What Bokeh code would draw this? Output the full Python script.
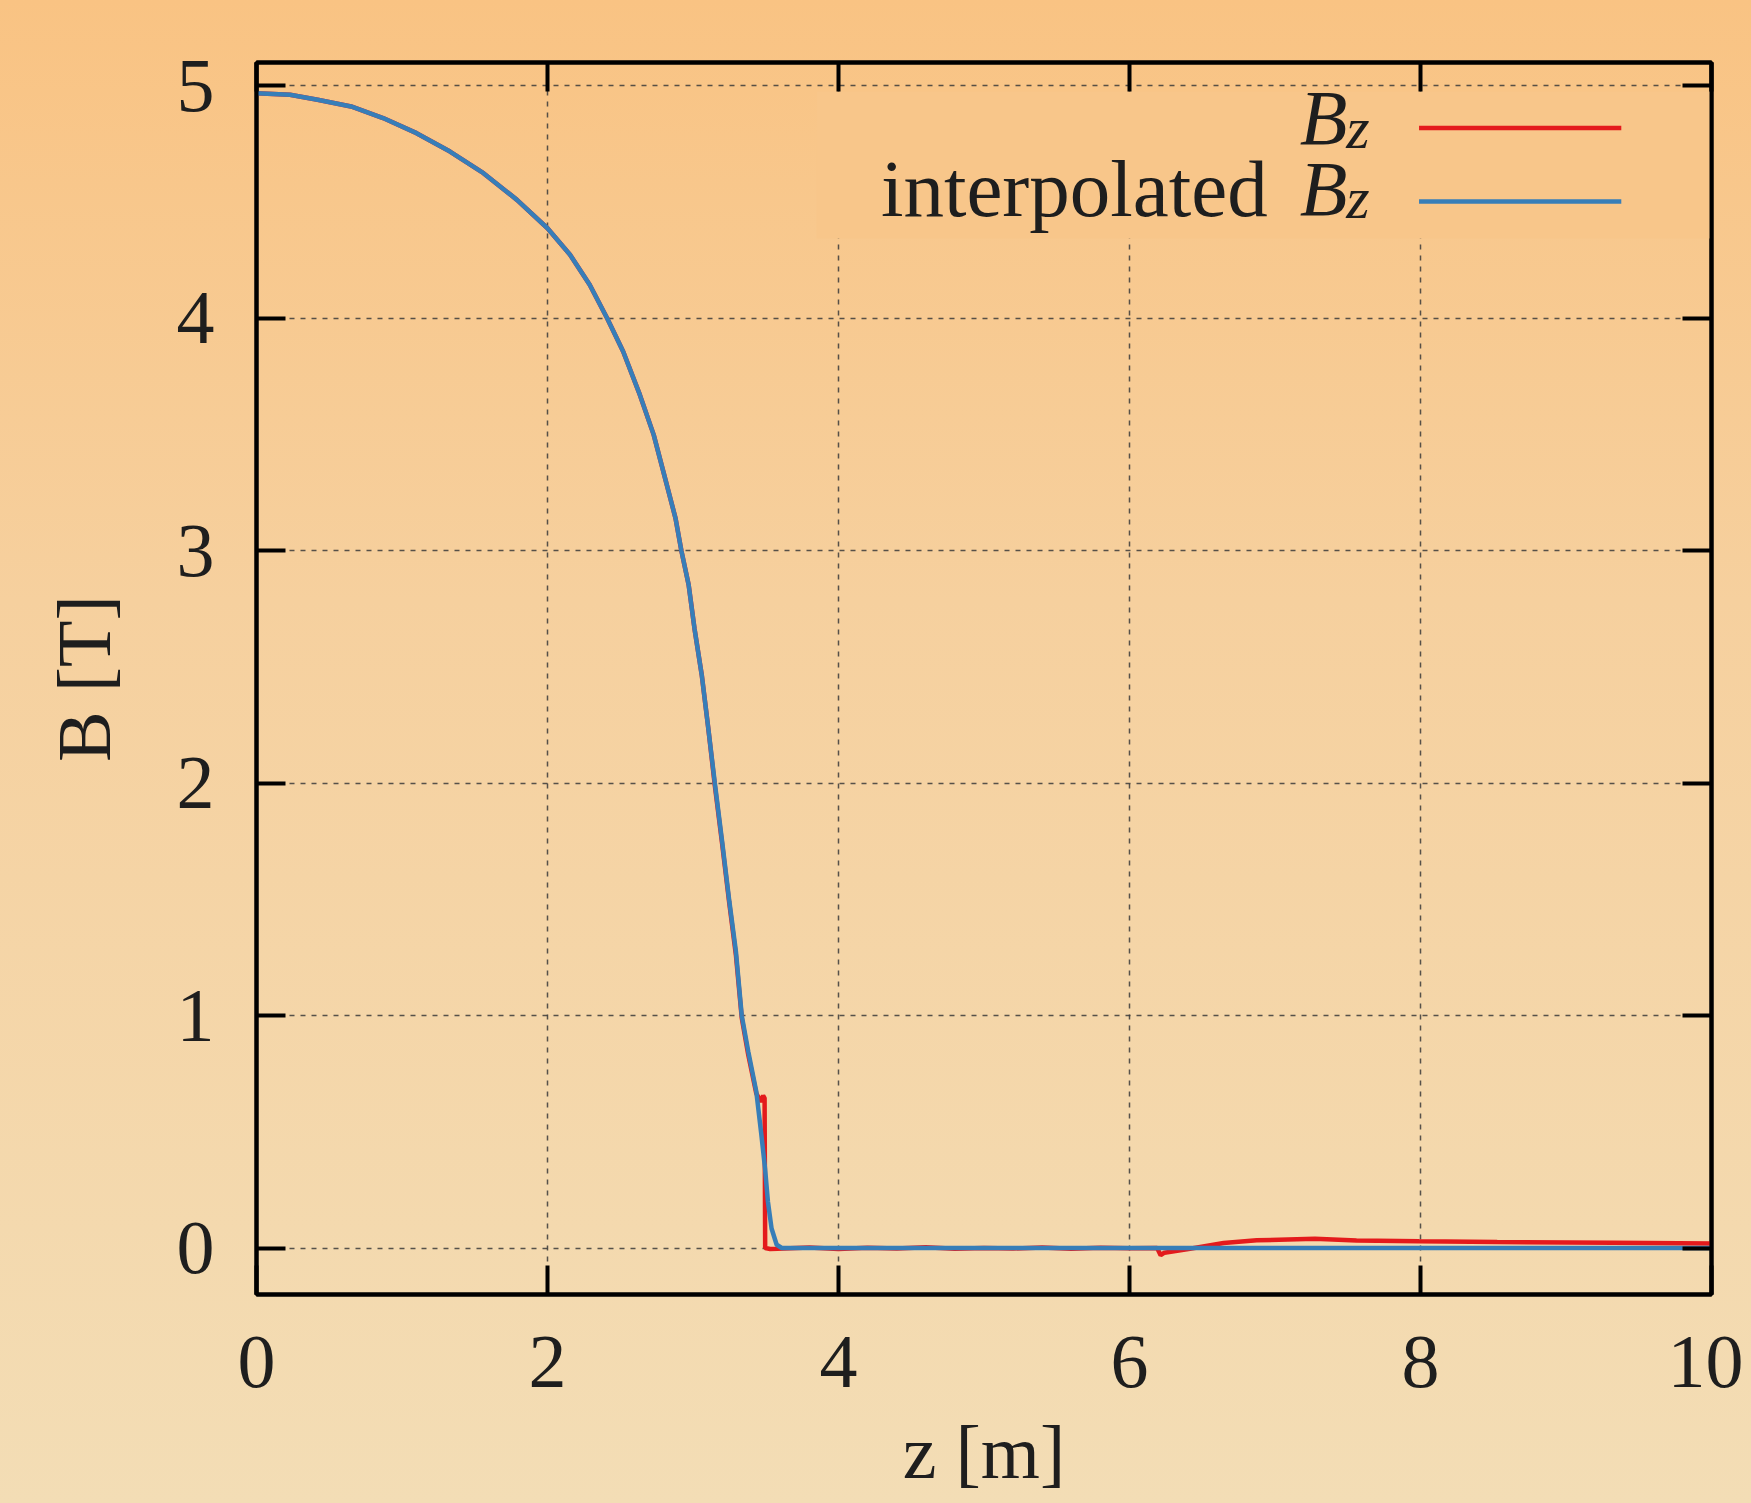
from bokeh.plotting import figure
from bokeh.models import (Range1d, LinearAxis, FixedTicker, Label, BoxAnnotation,
                          CustomJSTickFormatter, ColumnDataSource)
from bokeh.embed import file_html
from bokeh.resources import INLINE

# ---------------- data ----------------
x_ticks = [0, 2, 4, 6, 8, 10]
y_ticks = [0, 1, 2, 3, 4, 5]

z_interp = [0.0, 0.23, 0.42, 0.65, 0.87, 1.10, 1.33, 1.56, 1.79, 2.0, 2.155, 2.29,
            2.41, 2.52, 2.635, 2.73, 2.82, 2.88, 2.92, 2.97, 3.01, 3.06, 3.105, 3.15,
            3.20, 3.25, 3.295, 3.335, 3.38, 3.435, 3.47, 3.495, 3.515, 3.54, 3.575,
            3.61, 4.0, 5.0, 6.0, 7.0, 8.0, 9.0, 10.0]
b_interp = [4.968, 4.961, 4.94, 4.911, 4.861, 4.796, 4.717, 4.624, 4.509, 4.387, 4.273, 4.144,
            4.0, 3.857, 3.67, 3.498, 3.283, 3.139, 3.0, 2.853, 2.666, 2.466, 2.236, 2.0,
            1.75, 1.49, 1.275, 1.0, 0.845, 0.673, 0.486, 0.343, 0.199, 0.084, 0.014,
            0.0, 0.0, 0.0, 0.0, 0.0, 0.0, 0.0, 0.0]

z_bz = [0.0, 0.23, 0.42, 0.65, 0.87, 1.10, 1.33, 1.56, 1.79, 2.0, 2.155, 2.29,
        2.41, 2.52, 2.635, 2.73, 2.82, 2.88, 2.92, 2.97, 3.01, 3.06, 3.105, 3.15,
        3.20, 3.25, 3.295, 3.335, 3.38, 3.435, 3.465, 3.482, 3.492, 3.496, 3.53,
        3.58, 3.8, 4.0, 4.2, 4.4, 4.6, 4.8, 5.0, 5.2, 5.4, 5.6, 5.8, 6.0, 6.19,
        6.214, 6.24, 6.405, 6.647, 6.875, 7.274, 7.56, 7.99, 8.527, 9.324, 10.0]
b_bz = [4.968, 4.961, 4.94, 4.911, 4.861, 4.796, 4.717, 4.624, 4.509, 4.387, 4.273, 4.144,
        4.0, 3.857, 3.67, 3.498, 3.283, 3.139, 3.0, 2.853, 2.666, 2.466, 2.236, 1.99,
        1.74, 1.48, 1.26, 0.99, 0.83, 0.665, 0.63, 0.655, 0.645, 0.0, -0.004,
        -0.003, 0.002, -0.004, 0.001, -0.002, 0.003, -0.003, 0.0, -0.002, 0.002, -0.003, 0.001, -0.001, 0.0,
        -0.031, -0.02, -0.004, 0.0215, 0.033, 0.040, 0.032, 0.029, 0.026, 0.023, 0.019]

label_bz = "B"
label_bz_sub = "z"
label_interp = "interpolated"

# ---------------- styling ----------------
FONT = "Liberation Serif"
TXT = "#1e1e1e"
RED = "#E41A1C"
BLUE = "#377EB8"
KEY_BG = "#F8C68A"

p = figure(width=1743, height=1500,
           x_range=Range1d(0, 10), y_range=Range1d(-0.2, 5.1),
           output_backend="svg", toolbar_location=None,
           min_border_left=256, min_border_right=32,
           min_border_top=62, min_border_bottom=206,
           border_fill_color=None, background_fill_color=None,
           outline_line_color="black", outline_line_width=4)

xt = FixedTicker(ticks=x_ticks, minor_ticks=[])
yt = FixedTicker(ticks=y_ticks, minor_ticks=[])

def style_axis(ax, ticker, show_labels):
    ax.ticker = ticker
    ax.axis_line_color = "black"
    ax.axis_line_width = 4
    ax.major_tick_in = 29
    ax.major_tick_out = 0
    ax.major_tick_line_width = 4
    ax.major_tick_line_color = "black"
    ax.minor_tick_line_color = None
    ax.major_label_text_font = FONT
    ax.major_label_text_color = TXT
    if show_labels:
        ax.major_label_text_font_size = "76px"
    else:
        ax.major_label_text_font_size = "1px"
        ax.major_label_standoff = 0
        ax.formatter = CustomJSTickFormatter(code="return ''")

xaxis = p.xaxis[0]
yaxis = p.yaxis[0]
style_axis(xaxis, xt, True)
style_axis(yaxis, yt, True)
xaxis.major_label_standoff = 42
yaxis.major_label_standoff = 42
xaxis.axis_label = "z [m]"
yaxis.axis_label = "B [T]"
for ax in (xaxis, yaxis):
    ax.axis_label_text_font = FONT
    ax.axis_label_text_font_size = "76px"
    ax.axis_label_text_font_style = "normal"
    ax.axis_label_text_color = TXT
xaxis.axis_label_standoff = 20
yaxis.axis_label_standoff = 48

top_ax = LinearAxis()
style_axis(top_ax, xt, False)
right_ax = LinearAxis()
style_axis(right_ax, yt, False)
p.add_layout(top_ax, "above")
p.add_layout(right_ax, "right")

p.xgrid.ticker = xt
p.ygrid.ticker = yt
p.grid.grid_line_color = "#3a3a3a"
p.grid.grid_line_width = 1.5
p.grid.grid_line_dash = "5 6"
p.grid.grid_line_alpha = 0.85

# opaque key box (hides grid behind legend)
p.add_layout(BoxAnnotation(left=3.85, right=10, top=4.975, bottom=4.343,
                           fill_color=KEY_BG, fill_alpha=1.0, line_color=None,
                           level="underlay"))

src_bz = ColumnDataSource(dict(z=z_bz, b=b_bz))
src_int = ColumnDataSource(dict(z=z_interp, b=b_interp))
p.line("z", "b", source=src_bz, line_color=RED, line_width=4.5)
p.line("z", "b", source=src_int, line_color=BLUE, line_width=4.5)

# manual key: text on the left, sample line on the right
def key_text(x, y, text, size, italic=False, align="left"):
    p.add_layout(Label(x=x, y=y, text=text, text_font=FONT, text_font_size=size,
                       text_font_style="italic" if italic else "normal",
                       text_color=TXT, text_align=align, text_baseline="alphabetic"))

key_text(7.17, 4.863, label_bz, "78px", italic=True)
key_text(7.49, 4.820, label_bz_sub, "60px", italic=True)
key_text(6.95, 4.557, label_interp, "81px", align="right")
key_text(7.17, 4.557, label_bz, "78px", italic=True)
key_text(7.49, 4.515, label_bz_sub, "60px", italic=True)

half = 0.0097
p.add_layout(BoxAnnotation(left=7.99, right=9.38, bottom=4.818 - half, top=4.818 + half,
                           fill_color=RED, fill_alpha=1.0, line_color=None))
p.add_layout(BoxAnnotation(left=7.99, right=9.38, bottom=4.502 - half, top=4.502 + half,
                           fill_color=BLUE, fill_alpha=1.0, line_color=None))

html = file_html(p, INLINE, title="B_z")
css = ("<style>html{background:linear-gradient(180deg,#F9C383 0%,#F6D09E 40%,#F3DDB5 100%);"
       "min-height:100%;}</style>")
html = html.replace("<head>", "<head>" + css, 1)
open("out.html", "w").write(html)
